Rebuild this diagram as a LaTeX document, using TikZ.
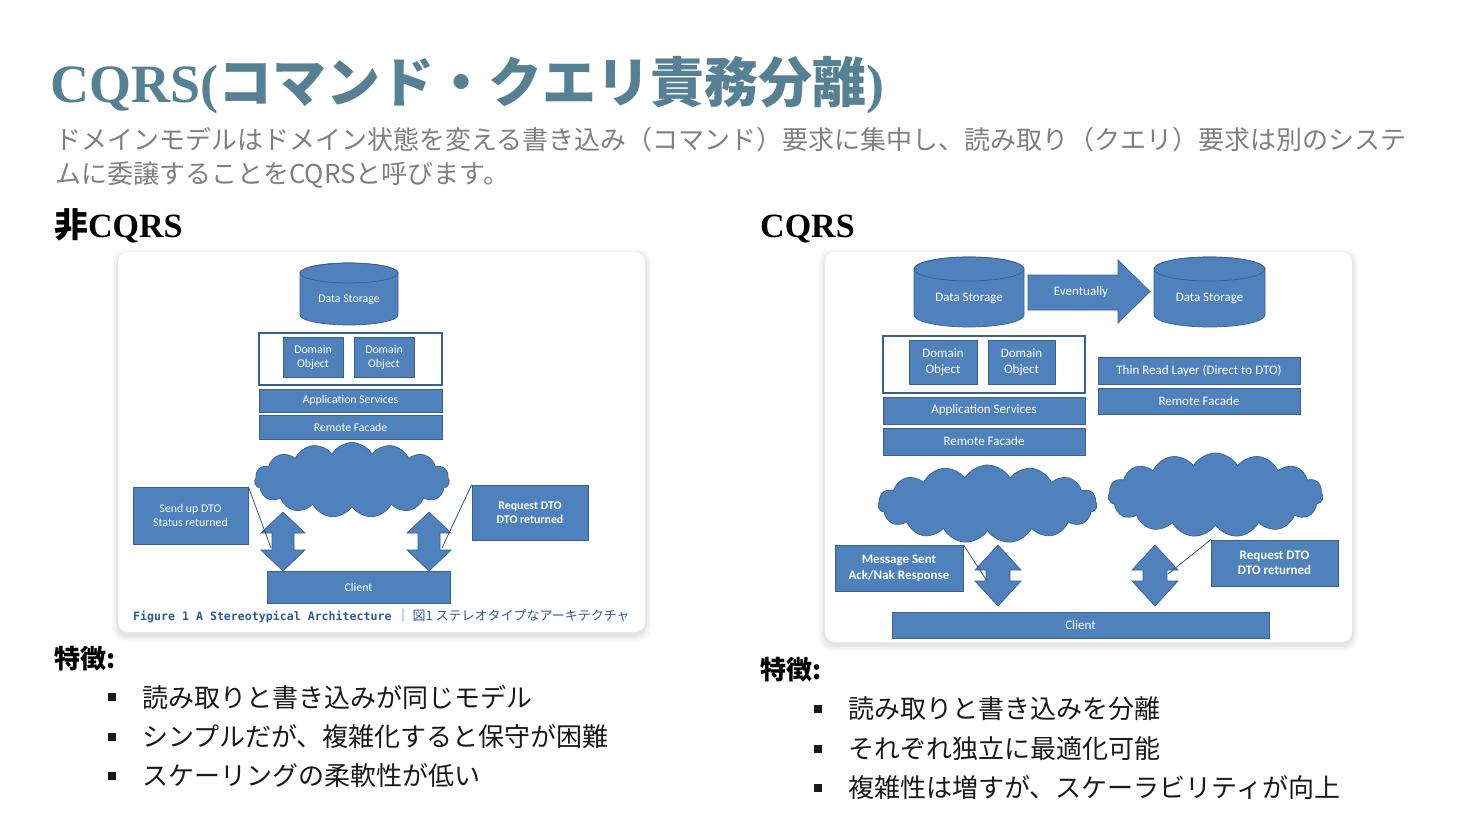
\documentclass[tikz,border=0pt]{standalone}
\usepackage{fontspec}
\setmainfont{Liberation Serif}
\newfontfamily\jp{Noto Sans CJK JP}
\newfontfamily\dgfont{Carlito}
\newfontfamily\capmono{DejaVu Sans Mono}
\usetikzlibrary{shapes.symbols}
\definecolor{titleteal}{RGB}{86,128,148}
\definecolor{subgray}{RGB}{128,128,128}
\definecolor{boxblue}{RGB}{79,129,189}
\definecolor{boxedge}{RGB}{58,96,145}
\definecolor{capblue}{RGB}{46,90,150}
\definecolor{inkblack}{RGB}{25,25,25}
% vertical double arrow: [style](centre x, top, bottom)(head half width:shaft half width:head length)
\def\updown[#1](#2,#3,#4)(#5:#6:#7){\filldraw[#1] (#2,#3) -- (#2+#5,#3+#7) -- (#2+#6,#3+#7) -- (#2+#6,#4-#7) -- (#2+#5,#4-#7) -- (#2,#4) -- (#2-#5,#4-#7) -- (#2-#6,#4-#7) -- (#2-#6,#3+#7) -- (#2-#5,#3+#7) -- cycle;}
% storage drum: (centre x, top, bottom)(x radius:y radius)
\def\drum(#1,#2,#3)(#4:#5){\filldraw[bigarrow] (#1-#4,#2+#5) -- (#1-#4,#3-#5) arc[start angle=180, end angle=0, x radius=#4, y radius=#5] -- (#1+#4,#2+#5) arc[start angle=0, end angle=-180, x radius=#4, y radius=#5] -- cycle;
	\draw[boxedge, line width=0.7pt] (#1,#2+#5) ellipse[x radius=#4, y radius=#5];}

\begin{document}
\begin{tikzpicture}[x=1pt, y=-1pt,
	blk/.style={fill=boxblue, draw=boxedge, line width=0.7pt, text=white, inner sep=0pt, align=center},
	puff/.style={cloud, cloud puffs=15, cloud puff arc=120, cloud ignores aspect, fill=boxblue, draw=boxedge, line width=0.7pt, inner sep=0pt},
	frame/.style={fill=white, draw=boxedge, line width=1.2pt},
	callout/.style={draw=boxedge!90!black, line width=0.8pt},
	bigarrow/.style={fill=boxblue, draw=boxedge, line width=0.7pt},
	bullettext/.style={anchor=west, inner sep=0pt, text=inkblack, font=\jp\fontsize{26}{30}\selectfont}]
			%%%%% START %%%%%
			
			\useasboundingbox[fill=white] (0,0) rectangle (1470,828);
			
			\node[anchor=base west, inner sep=0pt, text=titleteal] (title) at (50,102) {\fontsize{54}{60}\selectfont\bfseries CQRS({\jp コマンド・クエリ責務分離})};
			\node[anchor=base west, inner sep=0pt, text=subgray, font=\jp\fontsize{26}{30}\selectfont] (sub1) at (55,149) {ドメインモデルはドメイン状態を変える書き込み（コマンド）要求に集中し、読み取り（クエリ）要求は別のシステ};
			\node[anchor=base west, inner sep=0pt, text=subgray, font=\jp\fontsize{26}{30}\selectfont] (sub2) at (55,183) {ムに委譲することをCQRSと呼びます。};
			
			\node[anchor=base west, inner sep=0pt, text=black] (headL) at (54,237) {\fontsize{34}{40}\selectfont\bfseries{\jp 非}CQRS};
			\node[anchor=base west, inner sep=0pt, text=black] (headR) at (760,237) {\fontsize{34}{40}\selectfont\bfseries CQRS};
			
			% cards
			\foreach \d/\o in {6/0.025,4/0.035,2/0.045} {
				\fill[black, opacity=\o, rounded corners=12pt] (118-\d,252-\d+3) rectangle (645+\d,632+\d+3);
				\fill[black, opacity=\o, rounded corners=12pt] (825-\d,252-\d+3) rectangle (1352+\d,642+\d+3);
			}
			\fill[white, rounded corners=10pt] (118,252) rectangle (645,632);
			\fill[white, rounded corners=10pt] (825,252) rectangle (1352,642);
			
			%%%%% left diagram %%%%%
			\begin{scope}[font=\dgfont\fontsize{11.8}{14}\selectfont]
			\drum(349,263,325)(49:10)
			\node[text=white, inner sep=0pt] (store) at (349,300) {Data Storage};
			\node[frame, minimum width=183pt, minimum height=52pt] (domain) at (350.5,359) {};
			\node[blk, minimum width=60pt, minimum height=40pt] (objA) at (313,357) {Domain\\Object};
			\node[blk, minimum width=60pt, minimum height=40pt] (objB) at (384,357) {Domain\\Object};
			\node[blk, minimum width=183pt, minimum height=23pt] (appsvc) at (350.5,400.5) {Application Services};
			\node[blk, minimum width=183pt, minimum height=24pt] (facade) at (350.5,427) {Remote Facade};
			\node[puff, minimum width=195pt, minimum height=75pt] (net) at (352,480) {};
			\node[blk, minimum width=115pt, minimum height=57pt] (sendup) at (190.5,515.5) {Send up DTO\\Status returned};
			\node[blk, minimum width=116pt, minimum height=55pt, font=\dgfont\bfseries\fontsize{11.8}{14}\selectfont] (request) at (530,512.5) {Request DTO\\DTO returned};
			\node[blk, minimum width=183pt, minimum height=32pt] (client) at (358.5,587) {Client};
			\end{scope}
			\updown[bigarrow](283,512,571)(22:11:21)
			\updown[bigarrow](429,512,571)(22:11:21)
			\coordinate (tipA) at (271,548);
			\coordinate (tipB) at (442,548);
			\draw[callout] (sendup.north east) -- (tipA);
			\draw[callout] (request.north west) -- (tipB);
			\node[anchor=west, inner sep=0pt, text=capblue] (caption) at (133,616) {{\capmono\bfseries\fontsize{11.6}{14}\selectfont Figure 1 A Stereotypical Architecture}\hspace{5pt}{\jp\fontsize{13}{15}\selectfont ｜ 図1 ステレオタイプなアーキテクチャ}};
			
			%%%%% right diagram %%%%%
			\begin{scope}[font=\dgfont\fontsize{13}{15.5}\selectfont]
			\drum(969,257,327)(55:12)
			\node[text=white, inner sep=0pt] (writestore) at (969,298) {Data Storage};
			\drum(1209.5,257,327)(55.5:12)
			\node[text=white, inner sep=0pt] (readstore) at (1209.5,298) {Data Storage};
			\filldraw[bigarrow] (1028,275) -- (1118,275) -- (1118,260) -- (1150,291.5) -- (1118,323) -- (1118,310) -- (1028,310) -- cycle;
			\node[text=white, inner sep=0pt] (sync) at (1081,292) {Eventually};
			\node[frame, minimum width=202pt, minimum height=57pt] (domain2) at (984,364.5) {};
			\node[blk, minimum width=68pt, minimum height=44pt] (objC) at (943,362) {Domain\\Object};
			\node[blk, minimum width=67pt, minimum height=44pt] (objD) at (1021.5,362) {Domain\\Object};
			\node[blk, minimum width=202pt, minimum height=27pt] (appsvc2) at (984,410.5) {Application Services};
			\node[blk, minimum width=202pt, minimum height=27pt] (facade2) at (984,441.5) {Remote Facade};
			\node[blk, minimum width=202pt, minimum height=27pt] (thinread) at (1199,370.5) {Thin Read Layer (Direct to DTO)};
			\node[blk, minimum width=202pt, minimum height=26pt] (facade3) at (1199,401) {Remote Facade};
			\node[puff, minimum width=219pt, minimum height=78pt] (netW) at (987.5,504) {};
			\node[puff, minimum width=215pt, minimum height=84pt] (netR) at (1215.5,495) {};
			\node[blk, minimum width=128pt, minimum height=46pt, font=\dgfont\bfseries\fontsize{13}{15.5}\selectfont] (message) at (899,568) {Message Sent\\Ack/Nak Response};
			\node[blk, minimum width=127pt, minimum height=46pt, font=\dgfont\bfseries\fontsize{13}{15.5}\selectfont] (request2) at (1274.5,563) {Request DTO\\DTO returned};
			\node[blk, minimum width=377pt, minimum height=26pt] (client2) at (1080.5,625) {Client};
			\end{scope}
			\updown[bigarrow](998,545,606)(23:12:25)
			\updown[bigarrow](1155,545,606)(23:12:25)
			\coordinate (tipC) at (987,581);
			\coordinate (tipD) at (1168,574);
			\draw[callout] (message.north east) -- (tipC);
			\draw[callout] (request2.north west) -- (tipD);
			
			%%%%% features %%%%%
			\node[anchor=base west, inner sep=0pt, text=black] (featL) at (54,668) {\jp\bfseries\fontsize{26}{30}\selectfont 特徴:};
			\foreach \t [count=\i] in {読み取りと書き込みが同じモデル, シンプルだが、複雑化すると保守が困難, スケーリングの柔軟性が低い} {
				\fill[inkblack] (108,697+39.5*\i-39.5-4) rectangle (116,697+39.5*\i-39.5+4);
				\node[bullettext] (pL\i) at (142,697+39.5*\i-39.5) {\t};
			}
			\node[anchor=base west, inner sep=0pt, text=black] (featR) at (760,679) {\jp\bfseries\fontsize{26}{30}\selectfont 特徴:};
			\foreach \t [count=\i] in {読み取りと書き込みを分離, それぞれ独立に最適化可能, 複雑性は増すが、スケーラビリティが向上} {
				\fill[inkblack] (814,709+39.5*\i-39.5-4) rectangle (822,709+39.5*\i-39.5+4);
				\node[bullettext] (pR\i) at (848,709+39.5*\i-39.5) {\t};
			}
			
			%%%%% END %%%%%
\end{tikzpicture}
\end{document}
